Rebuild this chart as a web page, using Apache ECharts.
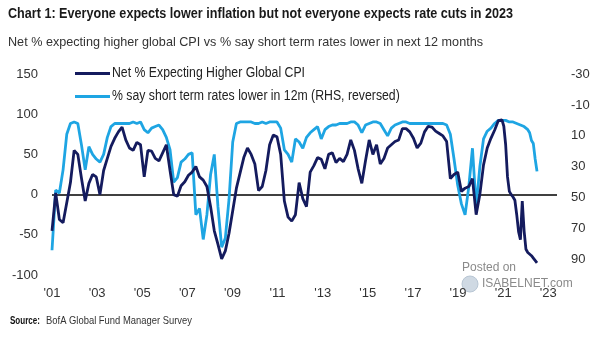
<!DOCTYPE html>
<html><head><meta charset="utf-8">
<script src="https://cdn.jsdelivr.net/npm/echarts@6/dist/echarts.min.js"></script>
<style>html,body{margin:0;padding:0;background:#fff;}#c{width:605px;height:341px;}</style>
</head><body><div id="c"></div>
<script>
const titleText = 'Chart 1: Everyone expects lower inflation but not everyone expects rate cuts in 2023';
const subtitleText = 'Net % expecting higher global CPI vs % say short term rates lower in next 12 months';
const sourceLabel = 'Source:';
const sourceText = 'BofA Global Fund Manager Survey';
const seriesNames = ['Net % Expecting Higher Global CPI', '% say short term rates lower in 12m (RHS, reversed)'];
const leftTicks = [-100, -50, 0, 50, 100, 150];
const rightTicks = [-30, -10, 10, 30, 50, 70, 90];
const yearLabels = [2001, 2003, 2005, 2007, 2009, 2011, 2013, 2015, 2017, 2019, 2021, 2023];

// sample dates: every 2 months 2001-01 .. 2020-11, then monthly 2021-01 .. 2022-12
const dates = [];
for (let y = 2001; y <= 2020; y++) for (let m = 1; m <= 11; m += 2) dates.push(y + '-' + String(m).padStart(2, '0'));
for (let y = 2021; y <= 2022; y++) for (let m = 1; m <= 12; m++) dates.push(y + '-' + String(m).padStart(2, '0'));

// Net % expecting higher global CPI (LHS)
const cpiNet = [
  -45, 2, -31, -35, -10, 15, 55, 50, 20, -8,
  14, 25, 22, 0, 30, 45, 60, 70, 78, 84,
  68, 58, 55, 65, 62, 22, 55, 54, 45, 42,
  52, 62, 30, 0, -2, 11, 16, 24, 28, 35,
  22, 18, 10, -15, -45, -62, -80, -70, -48, -20,
  8, 27, 46, 58, 50, 38, 5, 10, 30, 62,
  74, 72, 50, -8, -28, -33, -25, 15, -5, -15,
  28, 36, 46, 44, 32, 50, 52, 40, 45, 41,
  50, 68, 55, 32, 14, 42, 68, 50, 62, 38,
  45, 58, 62, 66, 68, 82, 82, 78, 70, 58,
  64, 78, 85, 84, 79, 76, 73, 66, 20, 25,
  28, 4, 8, 10, 20, -25, 0, 37, 58, 70,
  // 2021 monthly
  80, 86, 92, 93, 93, 85, 62, 22, 4, 0, -3, -7,
  // 2022 monthly
  -25, -46, -56, -8, -45, -68, -72, -74, -76, -79, -80, -85
];

// % say short term rates lower in 12m (RHS, reversed)
const ratesLower = [
  84, 45, 47, 32, 9, 2, 1, 2, 16, 32,
  17, 22, 25, 27, 22, 11, 4, 2, 2, 2,
  2, 2, 1, 2, 1, 6, 8, 5, 4, 3,
  6, 11, 19, 40, 37, 27, 25, 22, 21, 61,
  57, 77, 61, 35, 22, 56, 82, 76, 51, 14,
  2, 1, 1, 1, 1, 2, 2, 1, 2, 1,
  1, 1, 5, 19, 22, 27, 12, 14, 18, 11,
  8, 6, 4, 12, 6, 4, 3, 3, 2, 2,
  2, 1, 1, 3, 8, 3, 2, 1, 1, 2,
  6, 10, 5, 3, 2, 1, 1, 2, 2, 2,
  2, 2, 2, 2, 2, 2, 2, 3, 9, 25,
  42, 54, 61, 43, 18, 56, 30, 12, 7, 5,
  // 2021 monthly
  2, 1, 0, 0, 0, 0, 0, 0, 1, 1, 1, 2,
  // 2022 monthly
  2, 3, 3, 4, 4, 5, 6, 8, 13, 15, 25, 33
];

const toYear = d => { const [y, m] = d.split('-').map(Number); return y + (m - 1) / 12; };
const cpiData = dates.map((d, i) => [toYear(d), cpiNet[i]]);
const ratesData = dates.map((d, i) => [toYear(d), ratesLower[i]]);

const NAVY = '#141b5e';
const CYAN = '#1ea5e3';
const sans = '"Liberation Sans", Arial, sans-serif';

// horizontal squeeze so a regular face mimics the condensed original
const mctx = document.createElement('canvas').getContext('2d');
const fit = (text, font, target) => { mctx.font = font; return target / mctx.measureText(text).width; };
const squeezedText = (text, font, x, y, target, fill) => ({
  type: 'text', x: x, y: y, scaleX: fit(text, font, target), originX: 0, originY: 0,
  style: {text: text, font: font, fill: fill, verticalAlign: 'middle', align: 'left'}
});

const titleFont = 'bold 14px ' + sans;
const subFont = '13px ' + sans;
const legFont = '14px ' + sans;
const srcBold = 'bold 11px ' + sans;
const srcFont = '11px ' + sans;
const legScale = fit(seriesNames[0], legFont, 193);
mctx.font = legFont;
const leg2Width = mctx.measureText(seriesNames[1]).width * legScale;

const chart = echarts.init(document.getElementById('c'), null, {renderer: 'canvas'});
chart.setOption({
  animation: false,
  backgroundColor: '#fff',
  grid: {left: 52, right: 48, top: 74, bottom: 66, containLabel: false},
  xAxis: [
    {type: 'value', min: 2001, max: 2023.82, show: false},
    {type: 'value', min: 2001, max: 2023.385, interval: 2, position: 'bottom',
     axisLine: {show: false}, axisTick: {show: false}, splitLine: {show: false},
     axisLabel: {margin: 12, fontFamily: sans, fontSize: 13, color: '#333', showMaxLabel: false,
       formatter: v => yearLabels.includes(Math.round(v)) && Math.abs(v - Math.round(v)) < 1e-6 ? "'" + String(Math.round(v)).slice(2) : ''}}
  ],
  yAxis: [
    {type: 'value', min: leftTicks[0], max: leftTicks[leftTicks.length - 1], interval: 50,
     axisLine: {show: false}, axisTick: {show: false}, splitLine: {show: false},
     axisLabel: {margin: 14, fontFamily: sans, fontSize: 13, color: '#333'}},
    {type: 'value', inverse: true, min: rightTicks[0], max: 100, interval: 20, position: 'right',
     axisLine: {show: false}, axisTick: {show: false}, splitLine: {show: false},
     axisLabel: {margin: 14, fontFamily: sans, fontSize: 13, color: '#333', showMaxLabel: false,
       formatter: v => rightTicks.includes(v) ? String(v) : ''}}
  ],
  series: [
    {name: seriesNames[1], type: 'line', xAxisIndex: 0, yAxisIndex: 1, data: ratesData,
     showSymbol: false, lineStyle: {color: CYAN, width: 2.8}, itemStyle: {color: CYAN}, z: 2},
    {name: seriesNames[0], type: 'line', xAxisIndex: 0, yAxisIndex: 0, data: cpiData,
     showSymbol: false, lineStyle: {color: NAVY, width: 2.8}, itemStyle: {color: NAVY}, z: 3,
     markLine: {silent: true, symbol: 'none', label: {show: false}, z: 1,
       lineStyle: {color: '#000', width: 1.5, type: 'solid'}, data: [{yAxis: 0}]}}
  ],
  graphic: [
    squeezedText(titleText, titleFont, 8, 14, 505, '#1a1a1a'),
    squeezedText(subtitleText, subFont, 8, 42, 475, '#333'),
    // legend
    {type: 'line', shape: {x1: 75, y1: 73.5, x2: 110, y2: 73.5}, style: {stroke: NAVY, lineWidth: 3}},
    squeezedText(seriesNames[0], legFont, 112, 73.5, 193, '#222'),
    {type: 'line', shape: {x1: 75, y1: 96.5, x2: 110, y2: 96.5}, style: {stroke: CYAN, lineWidth: 3}},
    squeezedText(seriesNames[1], legFont, 112, 96.5, leg2Width, '#222'),
    // source
    squeezedText(sourceLabel, srcBold, 10, 321, 30, '#111'),
    squeezedText(sourceText, srcFont, 46, 321, 146, '#333'),
    // watermark
    {type: 'text', x: 462, y: 268, style: {text: 'Posted on', font: '12px ' + sans, fill: '#8a8a8a', verticalAlign: 'middle'}},
    {type: 'circle', shape: {cx: 470, cy: 284, r: 8}, style: {fill: '#cfd9e3', stroke: '#b8c6d4'}},
    {type: 'text', x: 482, y: 284, style: {text: 'ISABELNET.com', font: '12px ' + sans, fill: '#8a8a8a', verticalAlign: 'middle'}}
  ]
});
</script></body></html>
